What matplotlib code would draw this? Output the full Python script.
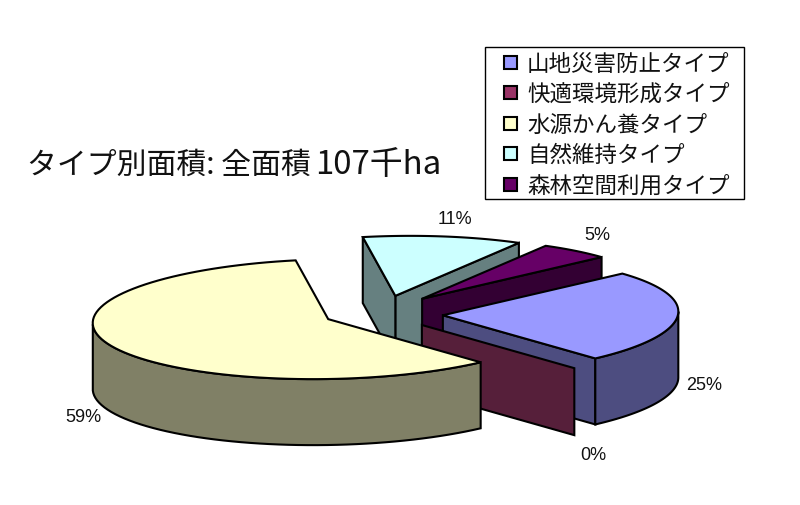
import numpy as np
import matplotlib
matplotlib.use('Agg')
import matplotlib.pyplot as plt
from matplotlib.patches import Rectangle

plt.rcParams['font.family'] = ['Noto Sans CJK JP', 'DejaVu Sans']

tipos = ['山地災害防止タイプ', '快適環境形成タイプ', '水源かん養タイプ', '自然維持タイプ', '森林空間利用タイプ']
porcentajes = [25, 0, 59, 11, 5]
titulo_a = 'タイプ別面積: 全面積'
titulo_b = '107千ha'

c_cara = ['#9999FF', '#993366', '#FFFFCC', '#CCFFFF', '#660066']
c_pared = ['#4D4D80', '#561F3A', '#808066', '#668080', '#330033']

# geometria del pastel en pixeles de la imagen
cx, cy = 383, 313
rx, ry, sesgo = 235, 60, 15
alto = 66
explosion = 0.255
ajuste_y = [2, 1, -1, -2, -2]
inicio = 44
orden = [3, 4, 0, 1, 2]  # de atras hacia adelante
pos_etiquetas = [(704, 386), (593, 455), (83, 417), (455, 220), (597, 236)]
filas_leyenda = [62, 92, 123, 153, 184]


def borde(t):
    t = np.radians(t)
    return rx * np.cos(t) + sesgo * np.sin(t), -ry * np.sin(t)


def pared(ax, xs, ys, color, h=alto):
    xs = np.asarray(xs)
    ys = np.asarray(ys)
    ax.fill(np.r_[xs, xs[::-1]], np.r_[ys, ys[::-1] + h], facecolor=color,
            edgecolor='black', lw=1.5, joinstyle='miter')


fig = plt.figure(figsize=(8, 5.05), dpi=100)
ax = fig.add_axes([0, 0, 1, 1])
ax.set_xlim(0, 800)
ax.set_ylim(505, 0)
ax.axis('off')

# angulos de cada porcion, en sentido horario desde el inicio
fin = inicio - np.cumsum(porcentajes) * 3.6
ini = np.r_[inicio, fin[:-1]]
extremo = np.degrees(np.arctan2(sesgo, rx))

for i in orden:
    t_alto, t_bajo = ini[i], fin[i]
    medio = (t_alto + t_bajo) / 2
    dx, dy = borde(medio)
    x0 = cx + explosion * dx
    y0 = cy + explosion * dy + ajuste_y[i]
    h = alto + 1 if porcentajes[i] == 0 else alto

    # caras radiales que miran hacia el frente
    if np.sin(np.radians(t_bajo - 90)) < 0:
        bx, by = borde(t_bajo)
        pared(ax, [x0, x0 + bx], [y0, y0 + by], c_pared[i], h)
    if np.sin(np.radians(t_alto + 90)) < 0:
        bx, by = borde(t_alto)
        pared(ax, [x0, x0 + bx], [y0, y0 + by], c_pared[i], h)

    # pared exterior, solo la parte de abajo de la elipse
    ts = np.linspace(t_bajo, t_alto, 90)
    visible = np.sin(np.radians(ts - extremo)) < 0
    if visible.any() and porcentajes[i] > 0:
        bx, by = borde(ts[visible])
        pared(ax, x0 + bx, y0 + by, c_pared[i], h)

    # cara de arriba
    if porcentajes[i] > 0:
        bx, by = borde(ts)
        ax.fill(np.r_[x0, x0 + bx], np.r_[y0, y0 + by], facecolor=c_cara[i],
                edgecolor='black', lw=1.5, joinstyle='miter')

for v, (px, py) in zip(porcentajes, pos_etiquetas):
    ax.text(px, py, f'{v}%', ha='center', va='center', fontsize=13,
            family=['Liberation Sans'], color='#111111')

ax.text(27, 165, titulo_a, ha='left', va='center', fontsize=21.5, color='#111111')
ax.text(315, 165, titulo_b, ha='left', va='center', fontsize=23.7, color='#111111')

# leyenda
ax.add_patch(Rectangle((485, 47), 259, 152, facecolor='white', edgecolor='black', lw=1))
for nombre, color, fila in zip(tipos, c_cara, filas_leyenda):
    ax.add_patch(Rectangle((504, fila - 6.5), 13, 13, facecolor=color, edgecolor='black', lw=1.5))
    ax.text(527, fila + 2, nombre, ha='left', va='center', fontsize=16.2, color='#111111')

fig.savefig('out.png', dpi=100)
